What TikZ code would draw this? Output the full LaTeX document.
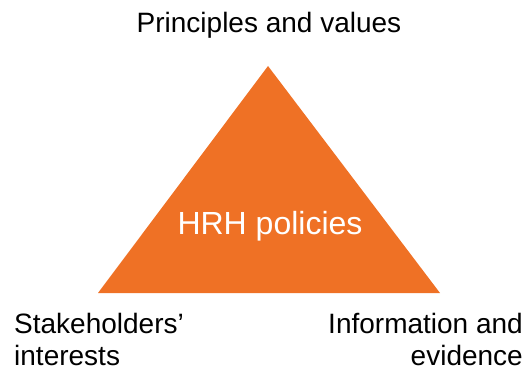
\documentclass[tikz,border=0pt]{standalone}
\usepackage{fontspec}
\setmainfont{Liberation Sans}
\usepackage{tikz}
\usetikzlibrary{positioning}
\definecolor{hrhOrange}{HTML}{EF7125}

\begin{document}
\begin{tikzpicture}[x=1pt, y=1pt]
    \useasboundingbox (0,0) rectangle (530,367);
    \coordinate (Top) at (268,301);
    \coordinate (Left) at (98,74);
    \coordinate (Right) at (440,74);
    \fill[hrhOrange] (Top) -- (Left) -- (Right) -- cycle;
    \node[font=\fontsize{32}{38}\selectfont, text=white] (Center) at (270,141) {HRH policies};
    \node[font=\fontsize{28}{32}\selectfont] (Principles) at (269,342) {Principles and values};
    \node[anchor=west, align=left, inner sep=0pt, font=\fontsize{28}{32}\selectfont] (Stakeholders) at (14,28) {Stakeholders'\\interests};
    \node[anchor=east, align=right, inner sep=0pt, font=\fontsize{28}{32}\selectfont] (Information) at (523,28) {Information and\\evidence};
\end{tikzpicture}
\end{document}
